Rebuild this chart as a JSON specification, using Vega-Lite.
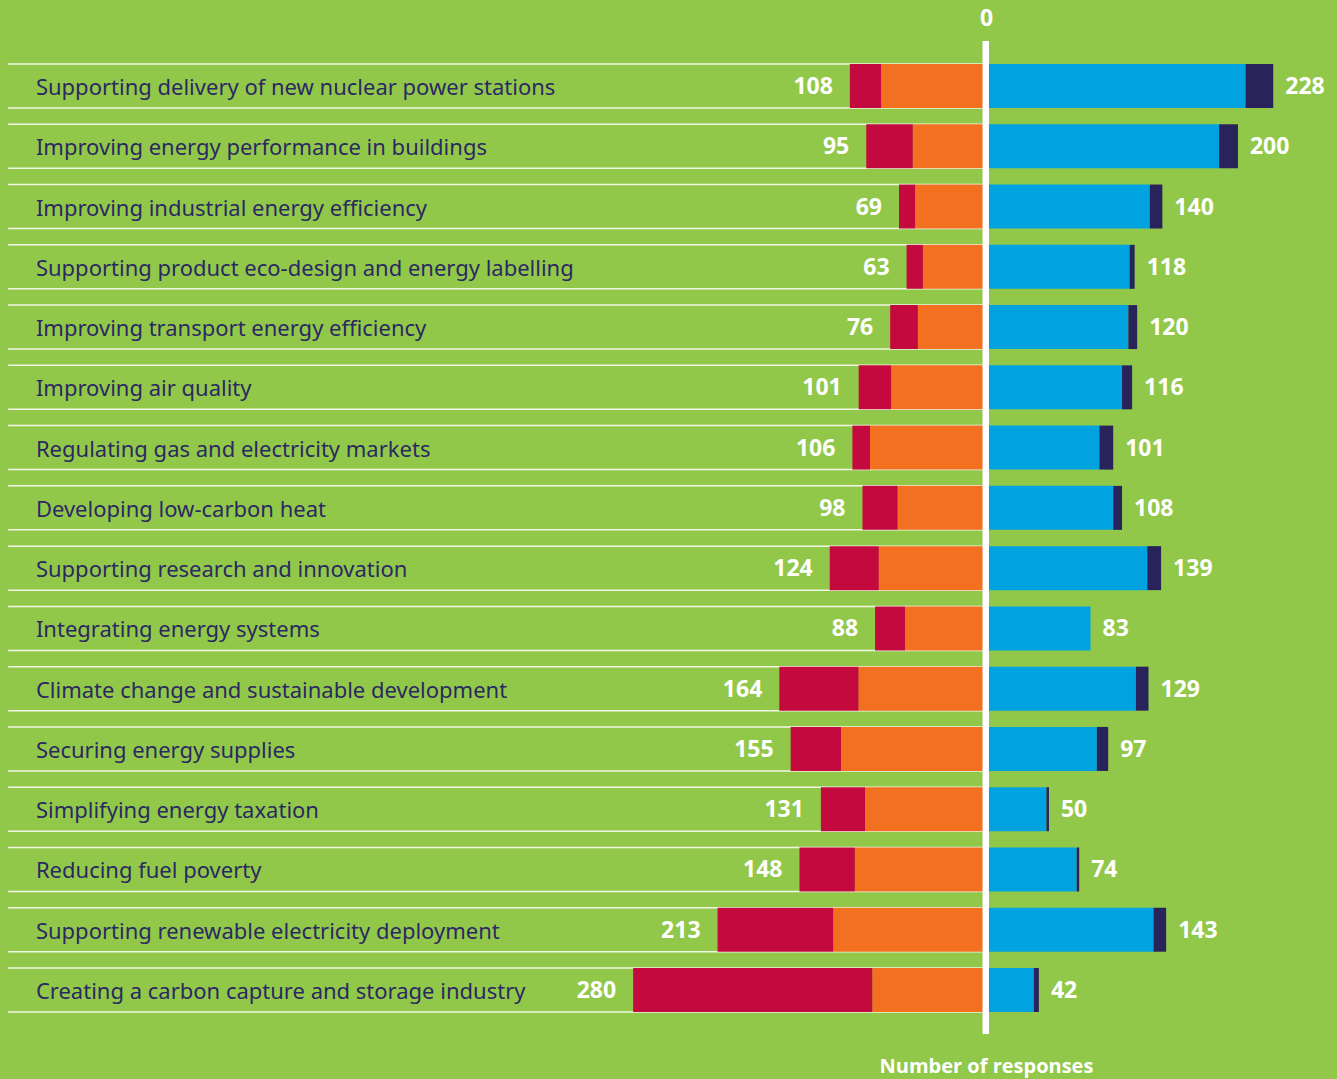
{
  "$schema": "https://vega.github.io/schema/vega-lite/v6.json",
  "width": 1337,
  "height": 993,
  "padding": {"left": 0, "right": 0, "top": 41, "bottom": 45},
  "autosize": {"type": "none"},
  "background": "#92c84a",
  "config": {"view": {"stroke": null}, "font": "Open Sans"},
  "datasets": {
    "totals": [
      {"cat": "Supporting delivery of new nuclear power stations", "left": -108, "leftLabel": 108, "right": 228},
      {"cat": "Improving energy performance in buildings", "left": -95, "leftLabel": 95, "right": 200},
      {"cat": "Improving industrial energy efficiency", "left": -69, "leftLabel": 69, "right": 140},
      {"cat": "Supporting product eco-design and energy labelling", "left": -63, "leftLabel": 63, "right": 118},
      {"cat": "Improving transport energy efficiency", "left": -76, "leftLabel": 76, "right": 120},
      {"cat": "Improving air quality", "left": -101, "leftLabel": 101, "right": 116},
      {"cat": "Regulating gas and electricity markets", "left": -106, "leftLabel": 106, "right": 101},
      {"cat": "Developing low-carbon heat", "left": -98, "leftLabel": 98, "right": 108},
      {"cat": "Supporting research and innovation", "left": -124, "leftLabel": 124, "right": 139},
      {"cat": "Integrating energy systems", "left": -88, "leftLabel": 88, "right": 83},
      {"cat": "Climate change and sustainable development", "left": -164, "leftLabel": 164, "right": 129},
      {"cat": "Securing energy supplies", "left": -155, "leftLabel": 155, "right": 97},
      {"cat": "Simplifying energy taxation", "left": -131, "leftLabel": 131, "right": 50},
      {"cat": "Reducing fuel poverty", "left": -148, "leftLabel": 148, "right": 74},
      {"cat": "Supporting renewable electricity deployment", "left": -213, "leftLabel": 213, "right": 143},
      {"cat": "Creating a carbon capture and storage industry", "left": -280, "leftLabel": 280, "right": 42}
    ],
    "segments": [
      {"cat": "Supporting delivery of new nuclear power stations", "seg": "Strongly negative", "v": -25, "ord": 2},
      {"cat": "Supporting delivery of new nuclear power stations", "seg": "Negative", "v": -83, "ord": 1},
      {"cat": "Supporting delivery of new nuclear power stations", "seg": "Positive", "v": 206, "ord": 1},
      {"cat": "Supporting delivery of new nuclear power stations", "seg": "Strongly positive", "v": 22, "ord": 2},
      {"cat": "Improving energy performance in buildings", "seg": "Strongly negative", "v": -37, "ord": 2},
      {"cat": "Improving energy performance in buildings", "seg": "Negative", "v": -58, "ord": 1},
      {"cat": "Improving energy performance in buildings", "seg": "Positive", "v": 185, "ord": 1},
      {"cat": "Improving energy performance in buildings", "seg": "Strongly positive", "v": 15, "ord": 2},
      {"cat": "Improving industrial energy efficiency", "seg": "Strongly negative", "v": -13, "ord": 2},
      {"cat": "Improving industrial energy efficiency", "seg": "Negative", "v": -56, "ord": 1},
      {"cat": "Improving industrial energy efficiency", "seg": "Positive", "v": 130, "ord": 1},
      {"cat": "Improving industrial energy efficiency", "seg": "Strongly positive", "v": 10, "ord": 2},
      {"cat": "Supporting product eco-design and energy labelling", "seg": "Strongly negative", "v": -13, "ord": 2},
      {"cat": "Supporting product eco-design and energy labelling", "seg": "Negative", "v": -50, "ord": 1},
      {"cat": "Supporting product eco-design and energy labelling", "seg": "Positive", "v": 114, "ord": 1},
      {"cat": "Supporting product eco-design and energy labelling", "seg": "Strongly positive", "v": 4, "ord": 2},
      {"cat": "Improving transport energy efficiency", "seg": "Strongly negative", "v": -22, "ord": 2},
      {"cat": "Improving transport energy efficiency", "seg": "Negative", "v": -54, "ord": 1},
      {"cat": "Improving transport energy efficiency", "seg": "Positive", "v": 113, "ord": 1},
      {"cat": "Improving transport energy efficiency", "seg": "Strongly positive", "v": 7, "ord": 2},
      {"cat": "Improving air quality", "seg": "Strongly negative", "v": -26, "ord": 2},
      {"cat": "Improving air quality", "seg": "Negative", "v": -75, "ord": 1},
      {"cat": "Improving air quality", "seg": "Positive", "v": 108, "ord": 1},
      {"cat": "Improving air quality", "seg": "Strongly positive", "v": 8, "ord": 2},
      {"cat": "Regulating gas and electricity markets", "seg": "Strongly negative", "v": -14, "ord": 2},
      {"cat": "Regulating gas and electricity markets", "seg": "Negative", "v": -92, "ord": 1},
      {"cat": "Regulating gas and electricity markets", "seg": "Positive", "v": 90, "ord": 1},
      {"cat": "Regulating gas and electricity markets", "seg": "Strongly positive", "v": 11, "ord": 2},
      {"cat": "Developing low-carbon heat", "seg": "Strongly negative", "v": -28, "ord": 2},
      {"cat": "Developing low-carbon heat", "seg": "Negative", "v": -70, "ord": 1},
      {"cat": "Developing low-carbon heat", "seg": "Positive", "v": 101, "ord": 1},
      {"cat": "Developing low-carbon heat", "seg": "Strongly positive", "v": 7, "ord": 2},
      {"cat": "Supporting research and innovation", "seg": "Strongly negative", "v": -39, "ord": 2},
      {"cat": "Supporting research and innovation", "seg": "Negative", "v": -85, "ord": 1},
      {"cat": "Supporting research and innovation", "seg": "Positive", "v": 128, "ord": 1},
      {"cat": "Supporting research and innovation", "seg": "Strongly positive", "v": 11, "ord": 2},
      {"cat": "Integrating energy systems", "seg": "Strongly negative", "v": -24, "ord": 2},
      {"cat": "Integrating energy systems", "seg": "Negative", "v": -64, "ord": 1},
      {"cat": "Integrating energy systems", "seg": "Positive", "v": 83, "ord": 1},
      {"cat": "Integrating energy systems", "seg": "Strongly positive", "v": 0, "ord": 2},
      {"cat": "Climate change and sustainable development", "seg": "Strongly negative", "v": -63, "ord": 2},
      {"cat": "Climate change and sustainable development", "seg": "Negative", "v": -101, "ord": 1},
      {"cat": "Climate change and sustainable development", "seg": "Positive", "v": 119, "ord": 1},
      {"cat": "Climate change and sustainable development", "seg": "Strongly positive", "v": 10, "ord": 2},
      {"cat": "Securing energy supplies", "seg": "Strongly negative", "v": -40, "ord": 2},
      {"cat": "Securing energy supplies", "seg": "Negative", "v": -115, "ord": 1},
      {"cat": "Securing energy supplies", "seg": "Positive", "v": 88, "ord": 1},
      {"cat": "Securing energy supplies", "seg": "Strongly positive", "v": 9, "ord": 2},
      {"cat": "Simplifying energy taxation", "seg": "Strongly negative", "v": -35, "ord": 2},
      {"cat": "Simplifying energy taxation", "seg": "Negative", "v": -96, "ord": 1},
      {"cat": "Simplifying energy taxation", "seg": "Positive", "v": 48, "ord": 1},
      {"cat": "Simplifying energy taxation", "seg": "Strongly positive", "v": 2, "ord": 2},
      {"cat": "Reducing fuel poverty", "seg": "Strongly negative", "v": -44, "ord": 2},
      {"cat": "Reducing fuel poverty", "seg": "Negative", "v": -104, "ord": 1},
      {"cat": "Reducing fuel poverty", "seg": "Positive", "v": 72, "ord": 1},
      {"cat": "Reducing fuel poverty", "seg": "Strongly positive", "v": 2, "ord": 2},
      {"cat": "Supporting renewable electricity deployment", "seg": "Strongly negative", "v": -92, "ord": 2},
      {"cat": "Supporting renewable electricity deployment", "seg": "Negative", "v": -121, "ord": 1},
      {"cat": "Supporting renewable electricity deployment", "seg": "Positive", "v": 133, "ord": 1},
      {"cat": "Supporting renewable electricity deployment", "seg": "Strongly positive", "v": 10, "ord": 2},
      {"cat": "Creating a carbon capture and storage industry", "seg": "Strongly negative", "v": -190, "ord": 2},
      {"cat": "Creating a carbon capture and storage industry", "seg": "Negative", "v": -90, "ord": 1},
      {"cat": "Creating a carbon capture and storage industry", "seg": "Positive", "v": 38, "ord": 1},
      {"cat": "Creating a carbon capture and storage industry", "seg": "Strongly positive", "v": 4, "ord": 2}
    ]
  },
  "resolve": {"axis": {"x": "independent"}},
  "layer": [
    {
      "data": {"name": "totals"},
      "mark": {"type": "rule", "color": "#ffffff", "strokeWidth": 1.5, "opacity": 0.85},
      "encoding": {
        "x": {"datum": -776.2, "type": "quantitative", "scale": {"domain": [-782.5, 278.6], "zero": false, "nice": false}, "axis": null},
        "x2": {"datum": 0},
        "y": {"field": "cat", "type": "nominal", "bandPosition": 0, "axis": null,
              "scale": {"domain": ["Supporting delivery of new nuclear power stations", "Improving energy performance in buildings", "Improving industrial energy efficiency", "Supporting product eco-design and energy labelling", "Improving transport energy efficiency", "Improving air quality", "Regulating gas and electricity markets", "Developing low-carbon heat", "Supporting research and innovation", "Integrating energy systems", "Climate change and sustainable development", "Securing energy supplies", "Simplifying energy taxation", "Reducing fuel poverty", "Supporting renewable electricity deployment", "Creating a carbon capture and storage industry"], "range": [23, 971], "paddingInner": 0.27, "paddingOuter": 0}}
      }
    },
    {
      "data": {"name": "totals"},
      "mark": {"type": "rule", "color": "#ffffff", "strokeWidth": 1.5, "opacity": 0.85},
      "encoding": {
        "x": {"datum": -776.2, "type": "quantitative", "axis": null},
        "x2": {"datum": 0},
        "y": {"field": "cat", "type": "nominal", "bandPosition": 1, "axis": null}
      }
    },
    {
      "data": {"name": "segments"},
      "mark": {"type": "bar"},
      "encoding": {
        "x": {"field": "v", "type": "quantitative", "stack": "zero", "title": null,
              "axis": {"orient": "top", "values": [0], "ticks": false, "tickSize": 0, "domain": false, "grid": false, "labelColor": "#ffffff", "labelFontSize": 23, "labelFontWeight": "bold", "labelPadding": 11, "labelFont": "Open Sans", "labelLimit": 0}},
        "y": {"field": "cat", "type": "nominal", "axis": null},
        "order": {"field": "ord", "type": "quantitative"},
        "color": {"field": "seg", "type": "nominal", "legend": null,
                  "scale": {"domain": ["Strongly negative", "Negative", "Positive", "Strongly positive"], "range": ["#c4093f", "#f37021", "#00a3e0", "#29235c"]}}
      }
    },
    {
      "data": {"name": "totals"},
      "mark": {"type": "rule", "color": "#ffffff", "strokeWidth": 6},
      "encoding": {
        "x": {"datum": 0, "type": "quantitative", "title": null,
              "axis": {"orient": "bottom", "values": [0], "labelExpr": "'Number of responses'", "ticks": false, "tickSize": 0, "domain": false, "grid": false, "labelColor": "#ffffff", "labelFontSize": 20, "labelFontWeight": "bold", "labelPadding": 22, "labelFont": "Open Sans", "labelLimit": 0, "labelOverlap": false, "labelFlush": false}}
      }
    },
    {
      "data": {"name": "totals"},
      "mark": {"type": "text", "align": "left", "baseline": "middle", "color": "#2b2862", "fontSize": 22, "font": "Noto Sans", "dy": 2},
      "encoding": {
        "x": {"datum": -754, "type": "quantitative", "axis": null},
        "y": {"field": "cat", "type": "nominal", "axis": null},
        "text": {"field": "cat"}
      }
    },
    {
      "data": {"name": "totals"},
      "mark": {"type": "text", "align": "right", "baseline": "middle", "color": "#ffffff", "fontSize": 23, "fontWeight": "bold", "dx": -17, "dy": 1},
      "encoding": {
        "x": {"field": "left", "type": "quantitative", "axis": null},
        "y": {"field": "cat", "type": "nominal", "axis": null},
        "text": {"field": "leftLabel"}
      }
    },
    {
      "data": {"name": "totals"},
      "mark": {"type": "text", "align": "left", "baseline": "middle", "color": "#ffffff", "fontSize": 23, "fontWeight": "bold", "dx": 12, "dy": 1},
      "encoding": {
        "x": {"field": "right", "type": "quantitative", "axis": null},
        "y": {"field": "cat", "type": "nominal", "axis": null},
        "text": {"field": "right"}
      }
    }
  ]
}
